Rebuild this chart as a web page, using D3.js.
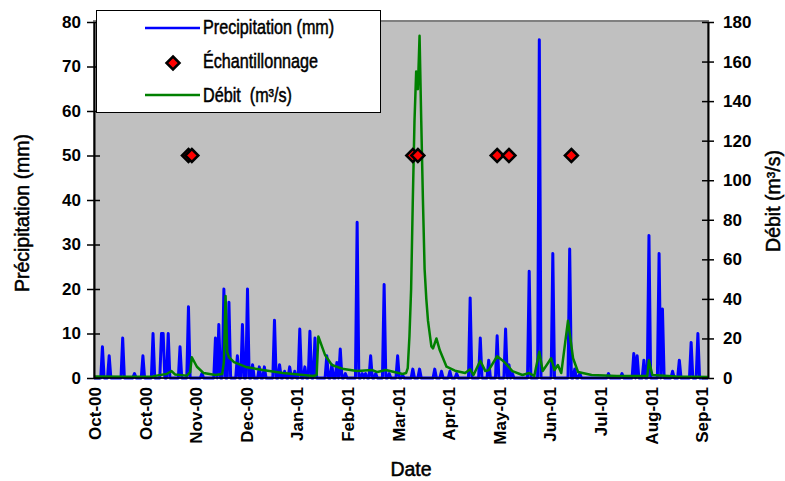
<html>
<head>
<meta charset="utf-8">
<script src="https://d3js.org/d3.v7.min.js"></script>
<style>
  body { margin: 0; background: #fff; }
  text { font-family: "Liberation Sans", Arial, sans-serif; fill: #000; }
  .tk { font-weight: bold; font-size: 17px; }
  .ttl { font-size: 19.5px; stroke: #000; stroke-width: 0.5px; }
</style>
</head>
<body>
<svg id="chart" width="785" height="481"></svg>
<script>
// precipitation (mm) on rainy days, every other day of the year is 0
const rainDates = ['2000-10-06','2000-10-10','2000-10-18','2000-10-25','2000-10-30','2000-11-05','2000-11-10','2000-11-11',
  '2000-11-14','2000-11-21','2000-11-26','2000-12-04','2000-12-12','2000-12-14','2000-12-17','2000-12-20','2000-12-25',
  '2000-12-28','2000-12-31','2001-01-03','2001-01-07','2001-01-10','2001-01-16','2001-01-19','2001-01-22','2001-01-25',
  '2001-01-28','2001-01-31','2001-02-03','2001-02-06','2001-02-09','2001-02-16','2001-02-19','2001-02-22','2001-02-24',
  '2001-02-27','2001-03-06','2001-03-09','2001-03-11','2001-03-14','2001-03-17','2001-03-22','2001-03-25','2001-03-30',
  '2001-04-02','2001-04-08','2001-04-12','2001-04-21','2001-04-25','2001-04-30','2001-05-04','2001-05-12','2001-05-18',
  '2001-05-23','2001-05-28','2001-06-02','2001-06-04','2001-06-06','2001-06-16','2001-06-22','2001-06-30','2001-07-10',
  '2001-07-13','2001-07-16','2001-08-02','2001-08-10','2001-08-17','2001-08-19','2001-08-23','2001-08-26','2001-09-01',
  '2001-09-03','2001-09-09','2001-09-13','2001-09-20','2001-09-24'];
const rainValues = [7,5,9,1,5,10,10,10,
  10,7,16,1,9,12,20,17,5,
  12,20,3,2.5,2.5,13,3,1.5,2.5,
  1.5,11,2.5,10.5,9,5,3,3.5,6.5,
  1,35,1,1,5,1,21,1,5,
  0.5,2,2,2,1.5,1.5,1,18,9,
  4,9.5,11,3,1,24,76,28,29,
  2,1,1,1,5.5,5,4,32,28,
  15.5,1.5,4,8,10];

// discharge (m3/s)
const flowDates = ['2000-10-01','2000-10-21','2000-11-05','2000-11-07','2000-11-13','2000-11-16','2000-11-18','2000-11-25',
  '2000-11-27','2000-11-28','2000-12-01','2000-12-05','2000-12-12','2000-12-16','2000-12-17','2000-12-18','2000-12-19',
  '2000-12-20','2000-12-23','2000-12-30','2001-01-09','2001-01-21','2001-02-08','2001-02-10','2001-02-11','2001-02-15',
  '2001-02-19','2001-02-26','2001-03-06','2001-03-15','2001-03-18','2001-03-23','2001-04-02','2001-04-04','2001-04-05',
  '2001-04-06','2001-04-07','2001-04-08','2001-04-09','2001-04-10','2001-04-11','2001-04-12','2001-04-13','2001-04-14',
  '2001-04-15','2001-04-16','2001-04-17','2001-04-19','2001-04-20','2001-04-22','2001-04-24','2001-04-28','2001-05-03',
  '2001-05-09','2001-05-12','2001-05-14','2001-05-18','2001-05-21','2001-05-23','2001-05-28','2001-05-31','2001-06-02',
  '2001-06-06','2001-06-12','2001-06-16','2001-06-19','2001-06-22','2001-06-24','2001-06-29','2001-07-01','2001-07-03',
  '2001-07-05','2001-07-09','2001-07-12','2001-07-15','2001-07-23','2001-08-07','2001-08-25','2001-08-26','2001-08-28',
  '2001-09-11','2001-09-30'];
const flowValues = [0.8,0.6,0.8,1.2,2,3.5,1.8,1.2,
  3,10.5,5.7,2.5,1.5,2,8,41.5,13,
  10.5,8,5.6,4,2.5,1,1.5,21,11.6,
  6.6,4.5,3.5,4,3,4,2,2.5,5,
  21,45,90,130,155,146,173,130,90,
  55,40,29,16,15,20,14,5.7,3.7,
  2.5,4.4,1.5,8.7,3.5,4,11,9,7.4,
  3.5,1.5,2.5,1,13.3,3.5,10,4,6.6,
  2.5,29,10,3,1.5,1,1,9,1.5,
  0.8,0.5];

// sampling dates, drawn at 50 mm on the left axis
const sampleDates = ['2000-11-26','2000-11-28','2001-04-08','2001-04-11','2001-05-28','2001-06-04','2001-07-11'];
const sampleLevel = 50;

const tickDates = ['2000-10-01','2000-10-31','2000-11-30','2000-12-30','2001-01-29','2001-02-28','2001-03-30',
  '2001-04-29','2001-05-29','2001-06-28','2001-07-28','2001-08-27','2001-09-26'];
const rainTicks = [0,10,20,30,40,50,60,70,80];
const flowTicks = [0,20,40,60,80,100,120,140,160,180];

const parse = d3.timeParse('%Y-%m-%d');
const fmt = d3.timeFormat('%Y-%m-%d');
const plotLeft = 94, plotRight = 708, plotTop = 21, plotBottom = 378;

const svg = d3.select('#chart');

var x = d3.scaleTime()
  .domain([parse('2000-10-01'), parse('2001-09-30')])
  .range([plotLeft, plotRight]);
var yRain = d3.scaleLinear().domain([0, 80]).range([plotBottom, 22]);
var yFlow = d3.scaleLinear().domain([0, 180]).range([plotBottom, 22]);

// daily rain series
const rainByDay = {};
rainDates.forEach((d, i) => rainByDay[d] = rainValues[i]);
const days = d3.timeDay.range(parse('2000-10-01'), parse('2001-10-01'));
const rain = days.map(d => ({date: d, v: rainByDay[fmt(d)] || 0}));
const flow = flowDates.map((d, i) => ({date: parse(d), v: flowValues[i]}));

// plot area
svg.append('rect')
  .attr('x', plotLeft).attr('y', plotTop)
  .attr('width', plotRight - plotLeft).attr('height', plotBottom - plotTop)
  .attr('fill', '#c0c0c0')
  .attr('stroke', '#808080').attr('stroke-width', 2);

svg.append('path')
  .datum(rain)
  .attr('fill', 'none')
  .attr('stroke', '#0000ff')
  .attr('stroke-width', 3)
  .attr('stroke-linejoin', 'round')
  .attr('d', d3.line().x(d => x(d.date)).y(d => yRain(d.v)));

svg.append('path')
  .datum(flow)
  .attr('fill', 'none')
  .attr('stroke', '#008000')
  .attr('stroke-width', 2.5)
  .attr('stroke-linejoin', 'round')
  .attr('d', d3.line().x(d => x(d.date)).y(d => yFlow(d.v)));

const diamond = 'M0,-6.5L6.5,0L0,6.5L-6.5,0Z';
svg.append('g')
  .selectAll('path')
  .data(sampleDates)
  .enter()
  .append('path')
    .attr('d', diamond)
    .attr('transform', d => 'translate(' + x(parse(d)) + ',' + yRain(sampleLevel) + ')')
    .attr('fill', '#ff0000')
    .attr('stroke', '#000')
    .attr('stroke-width', 2.5);

// axes
var gl = svg.append('g')
  .attr('transform', 'translate(' + plotLeft + ',0)')
  .call(d3.axisLeft(yRain).tickValues(rainTicks).tickSizeInner(6).tickSizeOuter(0).tickPadding(7));
gl.selectAll('.tick line').attr('x2', -7).attr('x1', 6);
var gr = svg.append('g')
  .attr('transform', 'translate(' + plotRight + ',0)')
  .call(d3.axisRight(yFlow).tickValues(flowTicks).tickSizeInner(6).tickSizeOuter(0).tickPadding(9));
gr.selectAll('.tick line').attr('x1', -6).attr('x2', 6);
[gl, gr].forEach(g => {
  g.select('.domain').attr('stroke', '#000').attr('stroke-width', 2);
  g.selectAll('.tick line').attr('stroke', '#000').attr('stroke-width', 1.5);
  g.selectAll('text').attr('class', 'tk').attr('font-family', null).attr('font-size', null);
});

svg.append('line')
  .attr('x1', plotLeft).attr('x2', plotRight)
  .attr('y1', plotBottom).attr('y2', plotBottom)
  .attr('stroke', '#000').attr('stroke-width', 1.5);

svg.append('g')
  .selectAll('text')
  .data(tickDates)
  .enter()
  .append('text')
    .attr('class', 'tk')
    .attr('transform', d => 'translate(' + (x(parse(d)) + 1) + ',387) rotate(-90)')
    .attr('text-anchor', 'end')
    .attr('dy', '0.35em')
    .text(d => d3.timeFormat('%b-%y')(parse(d)));

svg.append('text')
  .attr('class', 'ttl')
  .attr('x', 411).attr('y', 476)
  .attr('text-anchor', 'middle')
  .text('Date');

svg.append('text')
  .attr('class', 'ttl')
  .attr('transform', 'translate(29,213) rotate(-90)')
  .attr('text-anchor', 'middle')
  .text('Précipitation (mm)');

svg.append('text')
  .attr('class', 'ttl')
  .attr('transform', 'translate(780,201) rotate(-90)')
  .attr('text-anchor', 'middle')
  .text('Débit (m³/s)');

// legend
var lg = svg.append('g');
lg.append('rect')
  .attr('x', 96.5).attr('y', 10.5).attr('width', 284).attr('height', 102)
  .attr('fill', '#fff').attr('stroke', '#000').attr('stroke-width', 1);
lg.append('line').attr('x1', 145).attr('x2', 200).attr('y1', 28).attr('y2', 28)
  .attr('stroke', '#0000ff').attr('stroke-width', 2.5);
lg.append('path').attr('d', diamond).attr('transform', 'translate(173,63)')
  .attr('fill', '#ff0000').attr('stroke', '#000').attr('stroke-width', 2.5);
lg.append('line').attr('x1', 145).attr('x2', 200).attr('y1', 95).attr('y2', 95)
  .attr('stroke', '#008000').attr('stroke-width', 2.5);
const legendText = ['Precipitation (mm)', 'Échantillonnage', 'Débit  (m³/s)'];
lg.selectAll('text.lt')
  .data(legendText)
  .enter()
  .append('text')
    .attr('class', 'ttl')
    .attr('transform', (d, i) => 'translate(203,' + (34 + i * 34) + ') scale(0.83,1)')
    .attr('xml:space', 'preserve')
    .style('white-space', 'pre')
    .text(d => d);
</script>
</body>
</html>
